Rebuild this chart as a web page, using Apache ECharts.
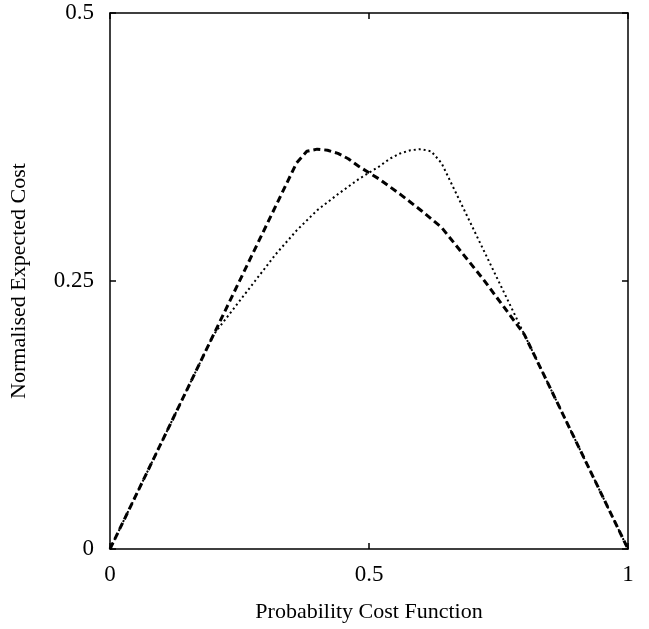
<!DOCTYPE html>
<html>
<head>
<meta charset="utf-8">
<script src="https://cdn.jsdelivr.net/npm/echarts@6/dist/echarts.min.js"></script>
<style>html,body{margin:0;padding:0;background:#fff;}#c{width:649px;height:629px;}</style>
</head>
<body>
<div id="c"></div>
<script>
var xTicks = [0, 0.5, 1];
var yTicks = [0, 0.25, 0.5];
var xTickLabels = ['0', '0.5', '1'];
var yTickLabels = ['0', '0.25', '0.5'];

var dashedX = [0, 0.36, 0.38, 0.40, 0.42, 0.44, 0.46, 0.48, 0.50, 0.52, 0.56, 0.60, 0.64, 0.68, 0.72, 0.76, 0.80, 1.0];
var dashedY = [0, 0.36, 0.371, 0.373, 0.372, 0.369, 0.364, 0.357, 0.351, 0.345, 0.331, 0.316, 0.300, 0.276, 0.252, 0.226, 0.2, 0];

var dottedX = [0, 0.20, 0.24, 0.28, 0.32, 0.36, 0.40, 0.44, 0.48, 0.50, 0.52, 0.54, 0.56, 0.58, 0.60, 0.62, 0.64, 1.0];
var dottedY = [0, 0.2, 0.225, 0.25, 0.275, 0.297, 0.316, 0.331, 0.345, 0.351, 0.357, 0.364, 0.369, 0.372, 0.373, 0.371, 0.36, 0];

function pairs(xs, ys) { return xs.map(function (x, i) { return [x, ys[i]]; }); }
function fmt(list, labels) { return function (v) { var i = list.indexOf(Math.round(v * 100) / 100); return i >= 0 ? labels[i] : ''; }; }

var font = 'Liberation Serif';
var axisLine = { show: true, onZero: false, lineStyle: { color: '#000', width: 1.5 } };
var tick = { show: true, inside: true, length: 6, lineStyle: { color: '#000', width: 1.5 } };

var chart = echarts.init(document.getElementById('c'), null, { renderer: 'canvas' });
chart.setOption({
  animation: false,
  backgroundColor: '#fff',
  grid: { left: 104, right: 21, top: 13, bottom: 80, containLabel: false },
  xAxis: [
    { type: 'value', min: 0, max: 1, interval: 0.5, position: 'bottom',
      axisLine: axisLine, axisTick: tick, splitLine: { show: false },
      axisLabel: { fontFamily: font, fontSize: 23, color: '#000', margin: 14, formatter: fmt(xTicks, xTickLabels) },
      name: 'Probability Cost Function', nameLocation: 'middle', nameGap: 52,
      nameTextStyle: { fontFamily: font, fontSize: 22, color: '#000' } },
    { type: 'value', min: 0, max: 1, interval: 0.5, position: 'top',
      axisLine: axisLine, axisTick: tick, axisLabel: { show: false }, splitLine: { show: false } }
  ],
  yAxis: [
    { type: 'value', min: 0, max: 0.5, interval: 0.25, position: 'left',
      axisLine: axisLine, axisTick: tick, splitLine: { show: false },
      axisLabel: { fontFamily: font, fontSize: 23, color: '#000', margin: 16, formatter: fmt(yTicks, yTickLabels) },
      name: 'Normalised Expected Cost', nameLocation: 'middle', nameGap: 80,
      nameTextStyle: { fontFamily: font, fontSize: 22, color: '#000' } },
    { type: 'value', min: 0, max: 0.5, interval: 0.25, position: 'right',
      axisLine: axisLine, axisTick: tick, axisLabel: { show: false }, splitLine: { show: false } }
  ],
  series: [
    { type: 'line', xAxisIndex: 0, yAxisIndex: 0, data: pairs(dashedX, dashedY), smooth: false, showSymbol: false,
      lineStyle: { color: '#000', width: 3, type: [7, 4] } },
    { type: 'line', xAxisIndex: 0, yAxisIndex: 0, data: pairs(dottedX, dottedY), smooth: false, showSymbol: false,
      lineStyle: { color: '#000', width: 2, type: [2, 3] } }
  ]
});
</script>
</body>
</html>
